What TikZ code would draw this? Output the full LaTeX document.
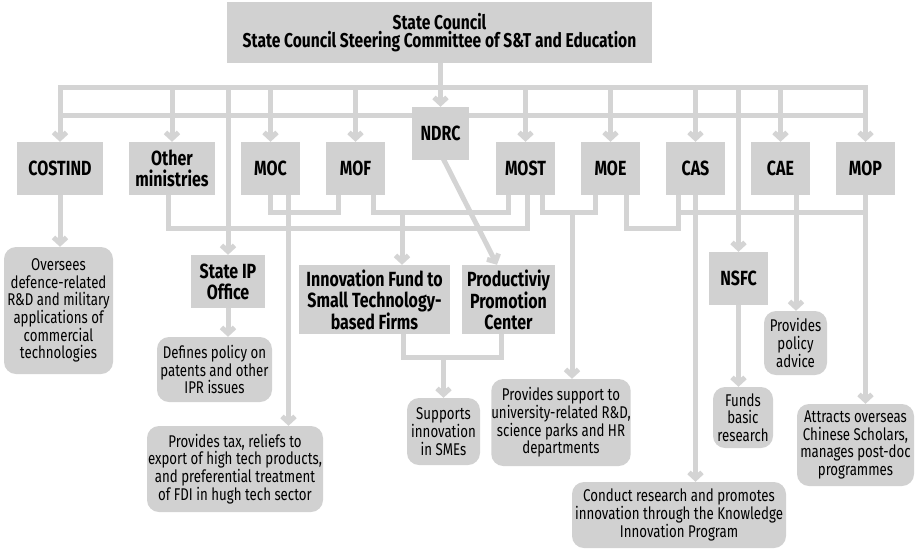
\documentclass[tikz,border=0pt]{standalone}
\usepackage{fontspec}
\setmainfont[FakeStretch=0.78]{Fira Sans}
\usetikzlibrary{arrows.meta}
\definecolor{boxgray}{RGB}{209,209,209}
\definecolor{linegray}{RGB}{212,212,212}
\pgfdeclarelayer{bg}
\pgfsetlayers{bg,main}
\begin{document}
\begin{tikzpicture}[x=1pt,y=-1pt,
  conn/.style={draw=linegray,line width=5pt,line cap=rect},
  arr/.style={conn,-{Straight Barb[length=6pt,width=13pt]}},
  sq/.style={fill=boxgray,inner sep=0pt,align=center,font=\fontsize{20.5}{21}\selectfont\bfseries},
  rb/.style={fill=boxgray,inner sep=0pt,align=center,rounded corners=12pt,font=\fontsize{17}{17.7}\selectfont},
]
\useasboundingbox (0,0) rectangle (916,550);

% level 0
\node[sq,minimum width=425,minimum height=61,font=\fontsize{20}{18.5}\selectfont\bfseries] (top) at (439.5,32.5) {State Council\\State Council Steering Committee of S\&T and Education};

% level 1
\node[sq,minimum width=86,minimum height=53] (costind) at (60,168.5) {COSTIND};
\node[sq,minimum width=86,minimum height=53] (other) at (172,168.5) {Other\\ministries};
\node[sq,minimum width=59,minimum height=53] (moc) at (270.5,168.5) {MOC};
\node[sq,minimum width=59,minimum height=53] (mof) at (355.5,168.5) {MOF};
\node[sq,minimum width=57,minimum height=53] (ndrc) at (440.5,133.5) {NDRC};
\node[sq,minimum width=59,minimum height=53] (most) at (525.5,168.5) {MOST};
\node[sq,minimum width=59,minimum height=53] (moe) at (610.5,168.5) {MOE};
\node[sq,minimum width=59,minimum height=53] (cas) at (695.5,168.5) {CAS};
\node[sq,minimum width=59,minimum height=53] (cae) at (780.5,168.5) {CAE};
\node[sq,minimum width=59,minimum height=53] (mop) at (865.5,168.5) {MOP};

% level 2
\node[sq,minimum width=74,minimum height=53] (stateip) at (228,281.5) {State IP\\Office};
\node[sq,minimum width=151,minimum height=69] (innov) at (374.5,299.5) {Innovation Fund to\\Small Technology-\\based Firms};
\node[sq,minimum width=93,minimum height=69] (prod) at (508.5,299.5) {Productiviy\\Promotion\\Center};
\node[sq,minimum width=59,minimum height=53] (nsfc) at (738.5,278.5) {NSFC};

% descriptions
\node[rb,minimum width=109,minimum height=127] (oversees) at (58.5,310.5) {Oversees\\defence-related\\R\&D and military\\applications of\\commercial\\technologies};
\node[rb,minimum width=115,minimum height=65] (defines) at (214.5,369.5) {Defines policy on\\patents and other\\IPR issues};
\node[rb,minimum width=176,minimum height=86] (tax) at (235,469) {Provides tax, reliefs to\\export of high tech products,\\and preferential treatment\\of FDI in hugh tech sector};
\node[rb,minimum width=73,minimum height=67] (supports) at (443.5,431.5) {Supports\\innovation\\in SMEs};
\node[rb,minimum width=138,minimum height=87] (support) at (561,422.5) {Provides support to\\university-related R\&D,\\science parks and HR\\departments};
\node[rb,minimum width=214,minimum height=66] (conduct) at (679,515) {Conduct research and promotes\\innovation through the Knowledge\\Innovation Program};
\node[rb,minimum width=60,minimum height=61] (funds) at (743,417.5) {Funds\\basic\\research};
\node[rb,minimum width=63,minimum height=64] (policy) at (795.5,343) {Provides\\policy\\advice};
\node[rb,minimum width=117,minimum height=82] (attracts) at (855.5,445) {Attracts overseas\\Chinese Scholars,\\manages post-doc\\programmes};

\coordinate (bus1) at (0,87);
\coordinate (bus2) at (0,115);
\coordinate (ya) at (0,212);
\coordinate (yb) at (0,228);
\coordinate (yc) at (0,357);

\begin{pgfonlayer}{bg}
% top distribution
\draw[arr] (top.south -| ndrc.north) -- (ndrc.north);
\draw[conn] (costind.north |- bus1) -- (mop.north |- bus1);
\draw[conn] (costind.north |- bus2) -- (mop.north |- bus2);
\foreach \m in {costind,other,moc,mof,most,moe,cas,cae,mop,stateip,nsfc}
  \draw[arr] (\m.north |- bus1) -- (\m.north);

% lower connections
\draw[arr] (costind.south) -- (costind.south |- oversees.north);
\draw[arr] (stateip.south) -- (stateip.south |- defines.north);
\draw[conn] ([xshift=-4]other.south) |- ([xshift=1.5]most.south |- yb) -- ([xshift=1.5]most.south);
\draw[conn] (moc.south) |- ([xshift=-17.5]mof.south |- ya) -- ([xshift=-17.5]mof.south);
\draw[arr] ([xshift=18]moc.south) -- ([xshift=18]moc.south |- tax.north);
\draw[conn] ([xshift=17.5]mof.south) |- ([xshift=-17.5]most.south |- ya) -- ([xshift=-17.5]most.south);
\draw[arr] ([xshift=27.5]innov.north |- ya) -- ([xshift=27.5]innov.north);
\draw[arr] ([xshift=3.5]ndrc.south) -- ([xshift=-11.5]prod.north);
\draw[conn] ([xshift=16.5]most.south) |- ([xshift=-15.5]moe.south |- ya) -- ([xshift=-15.5]moe.south);
\draw[arr] ([xshift=11]support.north |- ya) -- ([xshift=11]support.north);
\draw[conn] ([xshift=15.5]moe.south) |- ([xshift=-17.5]cas.south |- yb) -- ([xshift=-17.5]cas.south);
\draw[conn] ([xshift=-17.5]cas.south |- ya) -- (mop.south |- ya);
\draw[arr] (cas.south) -- (cas.south |- conduct.north);
\draw[arr] ([xshift=15.5]cae.south) -- ([xshift=15.5]cae.south |- policy.north);
\draw[arr] (mop.south) -- (mop.south |- attracts.north);
\draw[arr] (nsfc.south) -- (nsfc.south |- funds.north);
\draw[conn] ([xshift=28.5]innov.south) |- ([xshift=-7.5]prod.south |- yc) -- ([xshift=-7.5]prod.south);
\draw[arr] (supports.north |- yc) -- (supports.north);
\end{pgfonlayer}
\end{tikzpicture}
\end{document}
